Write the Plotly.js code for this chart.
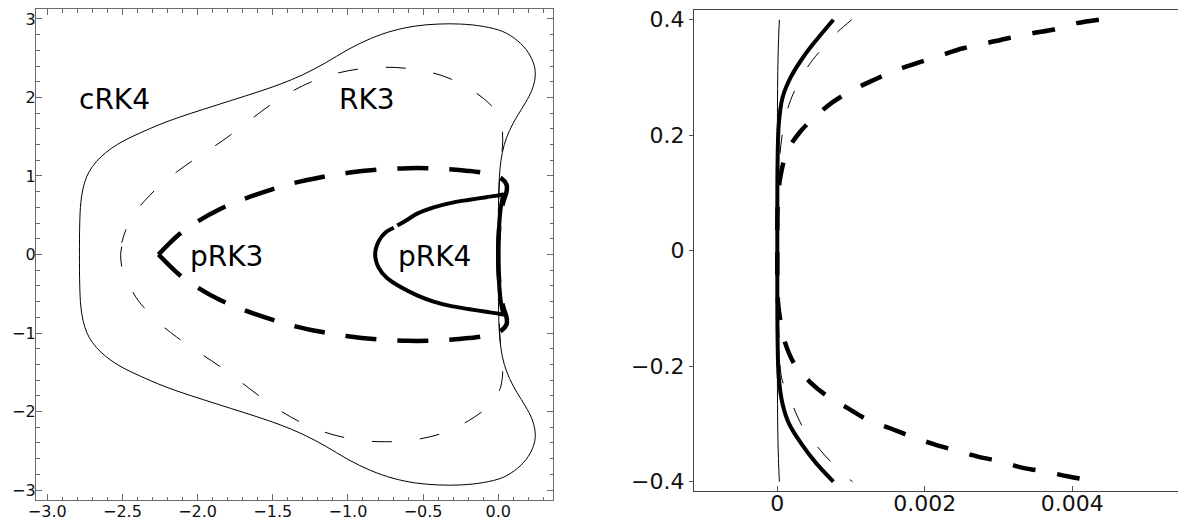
<!DOCTYPE html>
<html>
<head>
<meta charset="utf-8">
<script src="https://cdn.plot.ly/plotly-3.0.1.min.js"></script>
<style>
  html, body { margin: 0; padding: 0; background: #fff; }
  #chart { width: 1178px; height: 527px; }
</style>
</head>
<body>
<div id="chart"></div>
<script>
// ---------------- Left panel: full stability regions ----------------
const cRK4_x = [-2.786,-2.784,-2.777,-2.762,-2.738,-2.70,-2.645,-2.575,-2.49,-2.38,-2.26,-2.12,-1.96,-1.78,-1.6,-1.45,-1.3,-1.15,-1.0,-0.85,-0.7,-0.55,-0.4,-0.25,-0.1,0.03,0.13,0.2,0.24,0.245,0.225,0.18,0.125,0.075,0.04,0.018,0.007,0.002,0.0,0.0,
  0.0,0.002,0.007,0.018,0.04,0.075,0.125,0.18,0.225,0.245,0.24,0.2,0.13,0.03,-0.1,-0.25,-0.4,-0.55,-0.7,-0.85,-1.0,-1.15,-1.3,-1.45,-1.6,-1.78,-1.96,-2.12,-2.26,-2.38,-2.49,-2.575,-2.645,-2.70,-2.738,-2.762,-2.777,-2.784,-2.786];
const cRK4_y = [0,0.4,0.66,0.84,0.99,1.12,1.24,1.35,1.45,1.55,1.65,1.75,1.85,1.96,2.07,2.17,2.29,2.44,2.61,2.75,2.85,2.91,2.935,2.935,2.905,2.84,2.72,2.57,2.40,2.26,2.10,1.93,1.76,1.58,1.40,1.20,0.98,0.70,0.35,0,
  -0.35,-0.70,-0.98,-1.20,-1.40,-1.58,-1.76,-1.93,-2.10,-2.26,-2.40,-2.57,-2.72,-2.84,-2.905,-2.935,-2.935,-2.91,-2.85,-2.75,-2.61,-2.44,-2.29,-2.17,-2.07,-1.96,-1.85,-1.75,-1.65,-1.55,-1.45,-1.35,-1.24,-1.12,-0.99,-0.84,-0.66,-0.4,0];

const RK3_x = [-2.505,-2.512,-2.505,-2.48,-2.44,-2.39,-2.32,-2.24,-2.14,-2.03,-1.91,-1.79,-1.66,-1.52,-1.38,-1.23,-1.07,-0.9,-0.75,-0.6,-0.45,-0.32,-0.2,-0.1,-0.03,0.01,0.028,0.028,0.018,0.008,0.003,0,0,
  0,0.003,0.008,0.018,0.028,0.028,0.01,-0.03,-0.1,-0.2,-0.32,-0.45,-0.6,-0.75,-0.9,-1.07,-1.23,-1.38,-1.52,-1.66,-1.79,-1.91,-2.03,-2.14,-2.24,-2.32,-2.39,-2.44,-2.48,-2.505];
const RK3_y = [0.1,0,-0.15,-0.3,-0.45,-0.6,-0.75,-0.9,-1.05,-1.2,-1.35,-1.51,-1.7,-1.9,-2.07,-2.21,-2.31,-2.37,-2.385,-2.37,-2.32,-2.24,-2.12,-1.99,-1.86,-1.72,-1.55,-1.38,-1.2,-0.95,-0.65,-0.3,0,
  0.3,0.65,0.95,1.2,1.38,1.55,1.72,1.86,1.99,2.12,2.24,2.32,2.37,2.385,2.37,2.31,2.21,2.07,1.9,1.7,1.51,1.35,1.2,1.05,0.9,0.75,0.6,0.45,0.3,0.15];

const pRK3_upper_x = [-2.26,-2.12,-2.0,-1.85,-1.7,-1.52,-1.35,-1.18,-1.0,-0.8,-0.6,-0.4,-0.2,-0.06,0.02,0.055,0.055,0.038,0.022,0.01,0.003,0,0];
const pRK3_upper_y = [0,0.26,0.42,0.58,0.7,0.82,0.915,0.985,1.04,1.08,1.1,1.095,1.065,1.025,0.97,0.89,0.8,0.7,0.58,0.42,0.25,0.1,0];
const pRK3_lower_x = [-2.26,-2.12,-2.0,-1.85,-1.7,-1.52,-1.35,-1.18,-1.0,-0.8,-0.6,-0.4,-0.2,-0.06,0.02,0.055,0.055,0.038,0.022,0.01,0.003,0,0];
const pRK3_lower_y = [0,-0.26,-0.42,-0.58,-0.7,-0.82,-0.915,-0.985,-1.04,-1.08,-1.1,-1.095,-1.065,-1.025,-0.97,-0.89,-0.8,-0.7,-0.58,-0.42,-0.25,-0.1,0];

const pRK4_x = [-0.672,-0.6,-0.54,-0.43,-0.32,-0.2,-0.08,0.0,0.033,0.031,0.026,0.017,0.009,0.003,0,0,0,0.003,0.009,0.017,0.026,0.031,0.033,0.0,-0.08,-0.2,-0.32,-0.43,-0.54,-0.65,-0.74,-0.795,-0.819,-0.795,-0.75,-0.695];
const pRK4_y = [0.37,0.45,0.52,0.60,0.655,0.695,0.73,0.753,0.765,0.745,0.7,0.6,0.45,0.28,0.12,0,-0.12,-0.28,-0.45,-0.6,-0.7,-0.745,-0.765,-0.753,-0.73,-0.695,-0.655,-0.6,-0.52,-0.415,-0.3,-0.17,0,0.17,0.28,0.34];

const regionLabels = ["cRK4", "RK3", "pRK3", "pRK4"];
const labelX = [-2.553, -0.87, -1.811, -0.427];
const labelY = [1.968, 1.968, -0.03, -0.03];

const leftXTickVals = [-3.0,-2.5,-2.0,-1.5,-1.0,-0.5,0.0];
const leftXTickText = ["\u22123.0","\u22122.5","\u22122.0","\u22121.5","\u22121.0","\u22120.5","0.0"];
const leftYTickVals = [-3,-2,-1,0,1,2,3];
const leftYTickText = ["\u22123","\u22122","\u22121","0","1","2","3"];

// ---------------- Right panel: close-up near the imaginary axis ----------------
const cRK4_zoom_x = [0.000028,0.000015,0.000006,0.000002,0,0,0,0.000002,0.000006,0.000015,0.000028];
const cRK4_zoom_y = [0.4,0.36,0.31,0.25,0.15,0,-0.15,-0.25,-0.31,-0.36,-0.4];

const RK3_zoom_x = [0.00101,0.00081,0.00056,0.0004,0.00022,0.00013,0.00006,0.00002,0.000004,0,0.000004,0.00002,0.00006,0.00017,0.00033,0.00047,0.00072,0.0009,0.00102];
const RK3_zoom_y = [0.4,0.378,0.343,0.316,0.273,0.241,0.195,0.14,0.08,0,-0.08,-0.14,-0.221,-0.256,-0.302,-0.328,-0.365,-0.388,-0.4];

const pRK3_zoom_x = [0.00436,0.00406,0.00375,0.00345,0.00313,0.00282,0.00252,0.00223,0.00191,0.00162,0.00133,0.00105,0.00076,0.00054,0.00031,0.00013,0.00004,0.00001,0,0,0,0.00001,0.00004,0.0001,0.00024,0.00044,0.00069,0.00096,0.00123,0.00153,0.00182,0.00212,0.00242,0.00273,0.00303,0.00333,0.00365,0.00395,0.00436];
const pRK3_zoom_y = [0.4,0.394,0.383,0.3765,0.368,0.359,0.3505,0.339,0.3255,0.313,0.297,0.28,0.258,0.235,0.206,0.171,0.127,0.09,0.05,0,-0.05,-0.09,-0.12,-0.157,-0.198,-0.227,-0.253,-0.273,-0.293,-0.3075,-0.322,-0.335,-0.346,-0.357,-0.365,-0.376,-0.383,-0.391,-0.4];

const pRK4_zoom_x = [0.00076,0.00053,0.00035,0.00018,0.00007,0.00002,0.000003,0,0,0.000003,0.00002,0.00007,0.00016,0.00033,0.00052,0.00076];
const pRK4_zoom_y = [0.4,0.365,0.335,0.3,0.265,0.22,0.15,0.05,-0.05,-0.15,-0.22,-0.265,-0.3,-0.335,-0.367,-0.4];

const rightXTickVals = [0, 0.002, 0.004];
const rightXTickText = ["0", "0.002", "0.004"];
const rightYTickVals = [-0.4, -0.2, 0, 0.2, 0.4];
const rightYTickText = ["\u22120.4", "\u22120.2", "0", "0.2", "0.4"];

// ---------------- Build figure ----------------
const W = 1178, H = 527;

function line(x, y, xa, ya, style) {
  return {type: "scatter", mode: "lines", x: x, y: y, xaxis: xa, yaxis: ya,
          line: style, hoverinfo: "skip", showlegend: false};
}

const traces = [
  line(cRK4_x, cRK4_y, "x", "y", {color: "#000", width: 1, shape: "spline", smoothing: 1}),
  line(RK3_x, RK3_y, "x", "y", {color: "#000", width: 1, shape: "spline", smoothing: 1, dash: "20px,28px"}),
  line(pRK3_upper_x, pRK3_upper_y, "x", "y", {color: "#000", width: 4.5, shape: "spline", smoothing: 1, dash: "31px,21px"}),
  line(pRK3_lower_x, pRK3_lower_y, "x", "y", {color: "#000", width: 4.5, shape: "spline", smoothing: 1, dash: "31px,21px"}),
  line(pRK4_x, pRK4_y, "x", "y", {color: "#000", width: 4, shape: "spline", smoothing: 0.8}),

  line(cRK4_zoom_x, cRK4_zoom_y, "x2", "y2", {color: "#000", width: 1, shape: "spline", smoothing: 1}),
  line(RK3_zoom_x, RK3_zoom_y, "x2", "y2", {color: "#000", width: 1, shape: "spline", smoothing: 1, dash: "19px,27px"}),
  line(pRK3_zoom_x, pRK3_zoom_y, "x2", "y2", {color: "#000", width: 4.5, shape: "spline", smoothing: 1, dash: "23px,22px"}),
  line(pRK4_zoom_x, pRK4_zoom_y, "x2", "y2", {color: "#000", width: 4, shape: "spline", smoothing: 1})
];

const frameColor = "#6a6a6a";
const leftTickFont = {family: "DejaVu Sans", size: 16, color: "#111"};
const rightTickFont = {family: "DejaVu Sans", size: 22, color: "#111"};

const annotations = regionLabels.map((t, i) => ({
  text: t, x: labelX[i], y: labelY[i], xref: "x", yref: "y",
  showarrow: false, xanchor: "center", yanchor: "middle",
  font: {family: "DejaVu Sans", size: 28, color: "#000"}
}));

const layout = {
  width: W, height: H,
  margin: {l: 0, r: 0, t: 0, b: 0, pad: 0},
  paper_bgcolor: "#fff", plot_bgcolor: "#fff",
  showlegend: false,
  xaxis: {
    domain: [36 / W, 553 / W], range: [-3.075, 0.364], anchor: "y",
    tickmode: "array", tickvals: leftXTickVals, ticktext: leftXTickText,
    ticks: "inside", ticklen: 6, tickwidth: 1, tickcolor: frameColor,
    minor: {tickmode: "linear", tick0: 0, dtick: 0.1, ticks: "inside", ticklen: 3.5, tickcolor: frameColor, showgrid: false},
    showline: true, linecolor: frameColor, linewidth: 1.2, mirror: "allticks",
    showgrid: false, zeroline: false, tickfont: leftTickFont, fixedrange: true,
    ticklabelstandoff: -3
  },
  yaxis: {
    domain: [27 / H, 518 / H], range: [-3.127, 3.127], anchor: "x",
    tickmode: "array", tickvals: leftYTickVals, ticktext: leftYTickText,
    ticks: "inside", ticklen: 6, tickwidth: 1, tickcolor: frameColor,
    minor: {tickmode: "linear", tick0: 0, dtick: 0.2, ticks: "inside", ticklen: 3.5, tickcolor: frameColor, showgrid: false},
    showline: true, linecolor: frameColor, linewidth: 1.2, mirror: "allticks",
    showgrid: false, zeroline: false, tickfont: leftTickFont, fixedrange: true,
    ticklabelstandoff: -4
  },
  xaxis2: {
    domain: [694 / W, 1], range: [-0.00113, 0.005433], anchor: "y2",
    tickmode: "array", tickvals: rightXTickVals, ticktext: rightXTickText,
    ticks: "inside", ticklen: 5, tickwidth: 1, tickcolor: "#555",
    showline: true, linecolor: "#444", linewidth: 1.2, mirror: true,
    showgrid: false, zeroline: false, tickfont: rightTickFont, fixedrange: true,
    ticklabelstandoff: -7
  },
  yaxis2: {
    domain: [36.3 / H, 517 / H], range: [-0.4156, 0.4168], anchor: "x2",
    tickmode: "array", tickvals: rightYTickVals, ticktext: rightYTickText,
    ticks: "outside", ticklen: 4, tickwidth: 1, tickcolor: "#555",
    showline: true, linecolor: "#444", linewidth: 1.2, mirror: false,
    showgrid: false, zeroline: false, tickfont: rightTickFont, fixedrange: true,
    ticklabelstandoff: 0
  },
  annotations: annotations
};

Plotly.newPlot("chart", traces, layout, {staticPlot: true, displayModeBar: false});
</script>
</body>
</html>
